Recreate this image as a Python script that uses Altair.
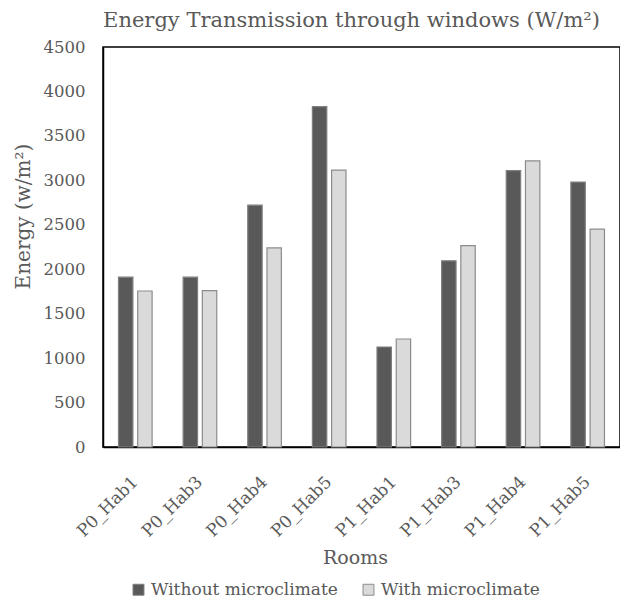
import altair as alt
import pandas as pd

rooms = ["P0_Hab1", "P0_Hab3", "P0_Hab4", "P0_Hab5", "P1_Hab1", "P1_Hab3", "P1_Hab4", "P1_Hab5"]
series = ["Without microclimate", "With microclimate"]
without_micro = [1910, 1910, 2720, 3830, 1125, 2095, 3110, 2980]
with_micro = [1755, 1760, 2240, 3115, 1215, 2265, 3220, 2450]

rows = []
for r, a, b in zip(rooms, without_micro, with_micro):
    rows.append({"Room": r, "Series": series[0], "Energy": a})
    rows.append({"Room": r, "Series": series[1], "Energy": b})
df = pd.DataFrame(rows)

FONT = "DejaVu Serif"
GREY = "#595959"

chart = alt.Chart(df).mark_bar(strokeWidth=1.2).encode(
    x=alt.X("Room:N", sort=rooms, title="Rooms",
            scale=alt.Scale(paddingInner=0.48, paddingOuter=0.24),
            axis=alt.Axis(labelAngle=-45, labelAlign="right", labelBaseline="middle",
                          labelFontSize=17, labelColor=GREY, labelFont=FONT, labelLimit=200,
                          titleFontSize=19, titleColor=GREY, titleFont=FONT, titleFontWeight="normal",
                          titleX=252, titleY=110, titleBaseline="middle",
                          ticks=False, domainColor="black", domainWidth=1.5,
                          labelPadding=32)),
    xOffset=alt.XOffset("Series:N", sort=series, scale=alt.Scale(paddingInner=0.25)),
    y=alt.Y("Energy:Q", title="Energy (w/m²)",
            scale=alt.Scale(domain=[0, 4500]),
            axis=alt.Axis(values=list(range(0, 4501, 500)), format="d", grid=False, ticks=False,
                          labelFontSize=16.5, labelColor=GREY, labelFont=FONT, labelPadding=18,
                          titleFontSize=20, titleColor=GREY, titleFont=FONT, titleFontWeight="normal",
                          titleX=-80, titleY=169, titleBaseline="middle",
                          domainColor="black", domainWidth=1.5)),
    color=alt.Color("Series:N", sort=series,
                    scale=alt.Scale(domain=series, range=["#595959", "#dadada"]),
                    legend=alt.Legend(orient="none", legendX=27, legendY=534,
                                      direction="horizontal", title=None,
                                      symbolType="square", symbolSize=120, symbolStrokeWidth=1,
                                      labelFontSize=17, labelColor=GREY, labelFont=FONT,
                                      labelLimit=300, labelOffset=4, columnPadding=22)),
    stroke=alt.Stroke("Series:N", sort=series,
                      scale=alt.Scale(domain=series, range=["#7f7f7f", "#8c8c8c"]),
                      legend=None),
).properties(
    width=517,
    height=400,
    title=alt.TitleParams("Energy Transmission through windows (W/m²)", fontSize=21,
                          font=FONT, color=GREY, fontWeight="normal", offset=8,
                          anchor="middle", dx=-10),
    padding={"left": 5, "top": 2, "right": 0, "bottom": 0},
).configure_view(stroke="black", strokeWidth=1.5)

chart.save("out.html", embed_options={"renderer": "svg", "actions": False})
